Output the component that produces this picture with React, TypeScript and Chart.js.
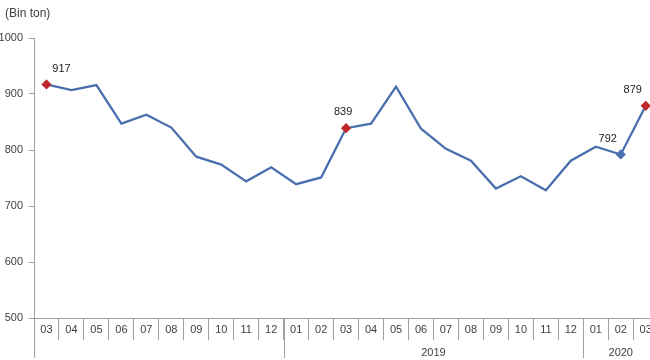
import React, { useEffect, useRef } from "react";
import { Chart, registerables } from "chart.js";
Chart.register(...registerables);

const months = ["03","04","05","06","07","08","09","10","11","12","01","02","03","04","05","06","07","08","09","10","11","12","01","02","03"];
const values = [917,907,916,847,863,840,788,774,744,769,739,751,839,847,913,838,802,781,731,753,728,781,806,792,879];
const yearLabels = ["", "2019", "2020"];
const yearStarts = [0, 10, 22];
const labelledPoints = [0, 12, 23, 24];
const labelAlign = ["aboveRight", "above", "aboveLeft", "aboveLeft"];
const markerColors = ["#c0282d", "#c0282d", "#4a6fb0", "#c0282d"];
const unitLabel = "(Bin ton)";
const yTicks = { min: 500, max: 1000, step: 100 };

const FONT = "'Liberation Sans', Arial, sans-serif";
const LINE = "#4a6fae";
const AXIS = "#a0a0a0";
const TEXT = "#404040";

export default function App() {
  const ref = useRef<HTMLCanvasElement>(null);
  useEffect(() => {
    const canvas = ref.current!;
    const radii = values.map((_, i) => (labelledPoints.includes(i) ? 3.5 : 0));
    const colors = values.map((_, i) => {
      const k = labelledPoints.indexOf(i);
      return k >= 0 ? markerColors[k] : LINE;
    });
    const overlay = {
      id: "overlay",
      afterDraw(chart: any) {
        const ctx = chart.ctx;
        const xs = chart.scales.x;
        const bottom = xs.top;
        ctx.save();
        ctx.fillStyle = TEXT;
        ctx.font = `12px ${FONT}`;
        ctx.textAlign = "left";
        ctx.textBaseline = "middle";
        ctx.fillText(unitLabel, 15, 14);
        ctx.strokeStyle = AXIS;
        ctx.lineWidth = 1;
        yearStarts.forEach((s) => {
          const x = Math.round(xs.getPixelForValue(s - 0.5)) + 0.5;
          ctx.beginPath();
          ctx.moveTo(x, bottom);
          ctx.lineTo(x, bottom + 40);
          ctx.stroke();
        });
        ctx.font = `11px ${FONT}`;
        ctx.textAlign = "center";
        yearLabels.forEach((lab, i) => {
          const s = yearStarts[i];
          const e = i + 1 < yearStarts.length ? yearStarts[i + 1] : months.length;
          const x = (xs.getPixelForValue(s - 0.5) + xs.getPixelForValue(e - 0.5)) / 2;
          if (lab) ctx.fillText(lab, x, bottom + 35);
        });
        const meta = chart.getDatasetMeta(0);
        ctx.font = `11px ${FONT}`;
        ctx.fillStyle = "#222";
        labelledPoints.forEach((idx, k) => {
          const p = meta.data[idx];
          let dx = -3, dy = -16;
          if (labelAlign[k] === "aboveRight") { dx = 15; dy = -16; }
          if (labelAlign[k] === "aboveLeft") { dx = -13; dy = -16; }
          ctx.fillText(String(values[idx]), p.x + dx, p.y + dy);
        });
        ctx.restore();
      },
    };
    const chart = new Chart(canvas, {
      type: "line",
      data: {
        labels: months,
        datasets: [
          {
            data: values,
            borderColor: LINE,
            borderWidth: 2.3,
            tension: 0,
            pointStyle: "rectRot",
            pointRadius: radii,
            pointBackgroundColor: colors,
            pointBorderColor: colors,
            pointHoverRadius: radii,
          },
        ],
      },
      options: {
        responsive: false,
        animation: false,
        layout: { padding: { top: 38, right: 0, left: 0, bottom: 0 } },
        plugins: { legend: { display: false }, tooltip: { enabled: false }, title: { display: false } },
        scales: {
          x: {
            type: "category",
            offset: true,
            grid: { display: true, drawOnChartArea: false, offset: true, tickLength: 22, color: AXIS },
            border: { display: true, color: AXIS },
            ticks: { color: TEXT, font: { family: FONT, size: 11 }, padding: -17, maxRotation: 0, autoSkip: false },
            afterFit: (s: any) => { s.height = 42; },
          },
          y: {
            min: yTicks.min,
            max: yTicks.max,
            ticks: { stepSize: yTicks.step, color: TEXT, font: { family: FONT, size: 11 }, padding: 6, callback: (v: any) => String(v) },
            grid: { display: true, drawOnChartArea: false, tickLength: 5, color: AXIS },
            border: { display: true, color: AXIS },
            afterFit: (s: any) => { s.width = 44; },
          },
        },
      },
      plugins: [overlay],
    });
    return () => chart.destroy();
  }, []);
  return (
    <div style={{ position: "absolute", left: -10, top: 0, width: 674, height: 360, background: "#fff" }}>
      <canvas ref={ref} width={674} height={360} style={{ display: "block" }} />
    </div>
  );
}
